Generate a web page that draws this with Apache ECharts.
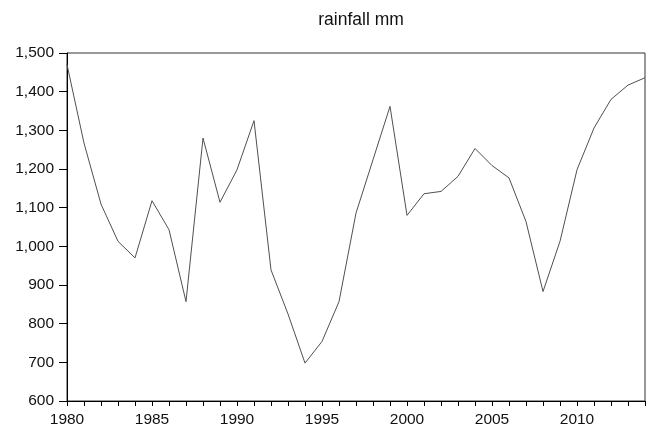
<!DOCTYPE html>
<html><head><meta charset="utf-8">
<script src="https://cdn.jsdelivr.net/npm/echarts@6/dist/echarts.min.js"></script>
<style>html,body{margin:0;padding:0;background:#fff}#c{width:650px;height:429px}</style>
</head><body><div id="c"></div>
<script>
const years = [];
for (let y = 1980; y <= 2014; y++) years.push(String(y));
const rainfall = [1470,1267,1109,1013,970,1118,1043,857,1280,1114,1198,1325,939,825,698,754,857,1086,1224,1362,1080,1136,1142,1181,1253,1209,1177,1064,883,1013,1198,1306,1380,1417,1436];
const yTicks = {min:600, max:1500, interval:100};
const title = 'rainfall mm';

const chart = echarts.init(document.getElementById('c'), null, {renderer:'canvas'});
chart.setOption({
  backgroundColor:'#fff',
  animation:false,
  title:{text:title, left:356, top:6, textAlign:'center',
    textStyle:{fontFamily:'Liberation Sans, Arial', fontSize:17.5, fontWeight:'normal', color:'#111'}},
  grid:{left:67, right:5, top:53, bottom:28, show:true, borderColor:'#333', borderWidth:1, backgroundColor:'transparent'},
  xAxis:{type:'category', data:years, boundaryGap:false,
    axisLine:{lineStyle:{color:'#000'}},
    axisTick:{interval:0, length:5, lineStyle:{color:'#000'}},
    axisLabel:{interval:4, margin:11, color:'#111', fontFamily:'Liberation Sans, Arial', fontSize:15.5},
    splitLine:{show:false}},
  yAxis:{type:'value', min:yTicks.min, max:yTicks.max, interval:yTicks.interval,
    axisLine:{show:true, lineStyle:{color:'#000'}},
    axisTick:{show:true, length:8, lineStyle:{color:'#000'}},
    axisLabel:{margin:13, color:'#111', fontFamily:'Liberation Sans, Arial', fontSize:15.5,
      formatter:v=>v.toLocaleString('en-US')},
    splitLine:{show:false}},
  series:[{type:'line', data:rainfall, symbol:'none', lineStyle:{color:'#505050', width:1}}]
});
</script></body></html>
